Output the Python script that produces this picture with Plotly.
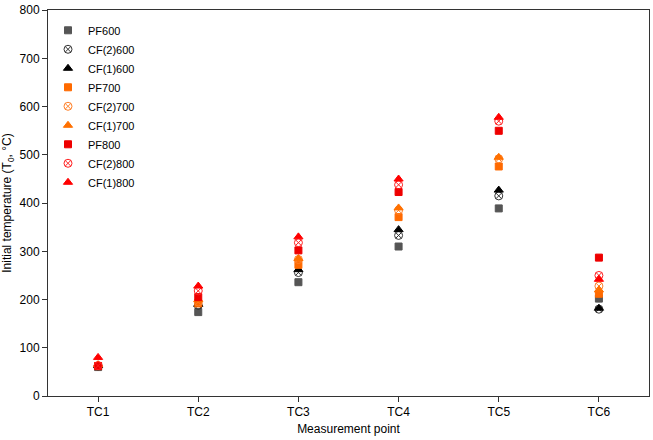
import plotly.graph_objects as go

categories = ["TC1", "TC2", "TC3", "TC4", "TC5", "TC6"]

series_names = ["PF600", "CF(2)600", "CF(1)600",
                "PF700", "CF(2)700", "CF(1)700",
                "PF800", "CF(2)800", "CF(1)800"]

pf600 = [60, 174, 236, 310, 389, 202]
cf2_600 = [62, 188, 256, 333, 415, 180]
cf1_600 = [63, 190, 262, 345, 427, 182]
pf700 = [62, 192, 272, 371, 476, 212]
cf2_700 = [63, 195, 283, 385, 492, 228]
cf1_700 = [65, 200, 285, 390, 495, 220]
pf800 = [62, 205, 302, 423, 550, 287]
cf2_800 = [63, 218, 318, 438, 570, 250]
cf1_800 = [80, 228, 330, 450, 578, 242]

values = [pf600, cf2_600, cf1_600, pf700, cf2_700, cf1_700, pf800, cf2_800, cf1_800]
colors = ["#555555", "#333333", "#000000",
          "#FF6A00", "#FF7F27", "#FF7000",
          "#EE0000", "#FF2020", "#FF0000"]
symbols = ["square", "circle-x-open", "triangle-up"] * 3
sizes = [7, 8, 8] * 3

fig = go.Figure()
for name, vals, col, sym, sz in zip(series_names, values, colors, symbols, sizes):
    fig.add_trace(go.Scatter(
        x=categories, y=vals, mode="markers", name=name,
        marker=dict(symbol=sym, color=col, size=sz,
                    line=dict(color=col, width=1)),
    ))

fig.update_layout(
    width=653, height=440,
    margin=dict(l=48, r=3, t=5, b=44),
    paper_bgcolor="white", plot_bgcolor="white",
    font=dict(family="Liberation Sans, Arial, sans-serif", size=11, color="#000"),
    showlegend=True,
    legend=dict(x=0.0, y=0.985, xanchor="left", yanchor="top",
                bgcolor="rgba(0,0,0,0)", font=dict(size=11),
                itemsizing="trace", tracegroupgap=0, itemwidth=30),
    xaxis=dict(
        type="category", range=[-0.5, 5.5],
        title=dict(text="Measurement point", font=dict(size=12), standoff=6),
        showline=True, linecolor="#333", linewidth=1, mirror=True,
        ticks="outside", ticklen=5, tickcolor="#333", showgrid=False,
        tickfont=dict(size=12),
    ),
    yaxis=dict(
        range=[0, 800.5], tickvals=[0, 100, 200, 300, 400, 500, 600, 700, 800],
        ticklabeloverflow="allow",
        title=dict(text="Initial temperature (T<sub>0</sub>, °C)", font=dict(size=12), standoff=6),
        showline=True, linecolor="#333", linewidth=1, mirror=True,
        ticks="outside", ticklen=5, tickcolor="#333", showgrid=False,
        zeroline=False, tickfont=dict(size=12),
    ),
)

fig.write_html("out.html")
